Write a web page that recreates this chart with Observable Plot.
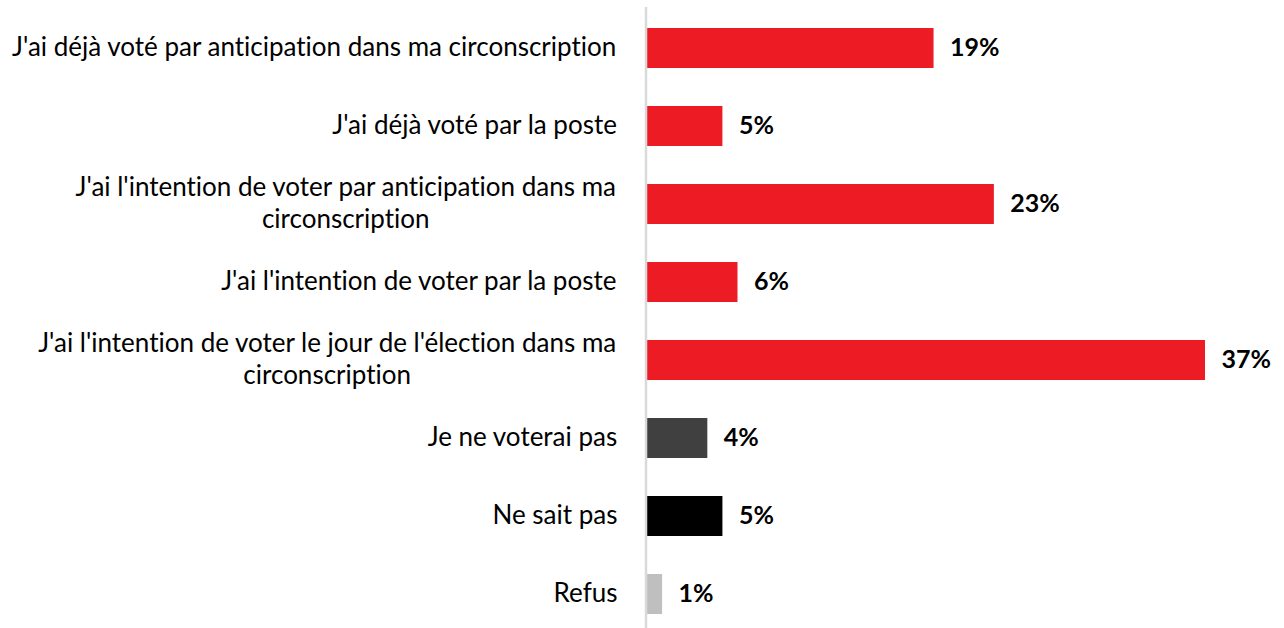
<!DOCTYPE html>
<html><head><meta charset="utf-8">
<script src="https://cdn.jsdelivr.net/npm/d3@7"></script>
<script src="https://cdn.jsdelivr.net/npm/@observablehq/plot@0.6"></script>
<style>body{margin:0;background:#fff} svg text{font-variant-ligatures:none;font-feature-settings:"liga" 0}</style>
</head><body><div id="chart"></div>
<script>
const categories = [
  "J'ai déjà voté par anticipation dans ma circonscription",
  "J'ai déjà voté par la poste",
  "J'ai l'intention de voter par anticipation dans ma circonscription",
  "J'ai l'intention de voter par la poste",
  "J'ai l'intention de voter le jour de l'élection dans ma circonscription",
  "Je ne voterai pas",
  "Ne sait pas",
  "Refus"
];
const labelLines = [
  ["J'ai déjà voté par anticipation dans ma circonscription"],
  ["J'ai déjà voté par la poste"],
  ["J'ai l'intention de voter par anticipation dans ma", "circonscription"],
  ["J'ai l'intention de voter par la poste"],
  ["J'ai l'intention de voter le jour de l'élection dans ma", "circonscription"],
  ["Je ne voterai pas"],
  ["Ne sait pas"],
  ["Refus"]
];
const values = [19, 5, 23, 6, 37, 4, 5, 1];
const groups = ["vote", "vote", "vote", "vote", "vote", "ne vote pas", "ne sait pas", "refus"];
const groupNames = ["vote", "ne vote pas", "ne sait pas", "refus"];
const groupColors = ["#ED1C24", "#404040", "#000000", "#BFBFBF"];

const FONT = "Lato";
const LABEL_SIZE = 26;
const VALUE_SIZE = 25;

const canvas = document.createElement("canvas");
const ctx = canvas.getContext("2d");
function measure(t, size, weight) {
  ctx.font = `${weight || "normal"} ${size}px ${FONT}`;
  return ctx.measureText(t).width;
}

const data = categories.map((c, i) => ({cat: c, value: values[i], group: groups[i]}));

const labelMarks = [];
categories.forEach((c, i) => {
  const lines = labelLines[i];
  const maxW = Math.max(...lines.map(l => measure(l, LABEL_SIZE)));
  lines.forEach((l, j) => {
    labelMarks.push(Plot.text([{cat: c, t: l}], {
      x: () => 0, y: "cat", text: "t",
      textAnchor: "middle",
      dx: -30 - maxW / 2,
      dy: (j - (lines.length - 1) / 2) * 32 - 1,
      fontSize: LABEL_SIZE, fill: "#000"
    }));
  });
});

const plot = Plot.plot({
  width: 1284, height: 628,
  marginLeft: 647, marginRight: 79, marginTop: 7, marginBottom: 0,
  x: {domain: [0, 37], axis: null},
  y: {domain: categories, range: [7, 634], paddingInner: 0.49, paddingOuter: 0.245, axis: null},
  color: {domain: groupNames, range: groupColors},
  style: {fontFamily: FONT, background: "#fff", overflow: "visible"},
  marks: [
    Plot.barX(data, {x: "value", y: "cat", fill: "group"}),
    Plot.ruleX([0], {stroke: "#D9D9D9", strokeWidth: 2.5, dx: -1.5}),
    Plot.text(data, {x: "value", y: "cat", text: d => d.value + "%", textAnchor: "start", dx: 16, dy: -1,
      fontWeight: "bold", fontSize: VALUE_SIZE, fill: "#000"}),
    ...labelMarks
  ]
});
document.getElementById("chart").append(plot);
</script></body></html>
